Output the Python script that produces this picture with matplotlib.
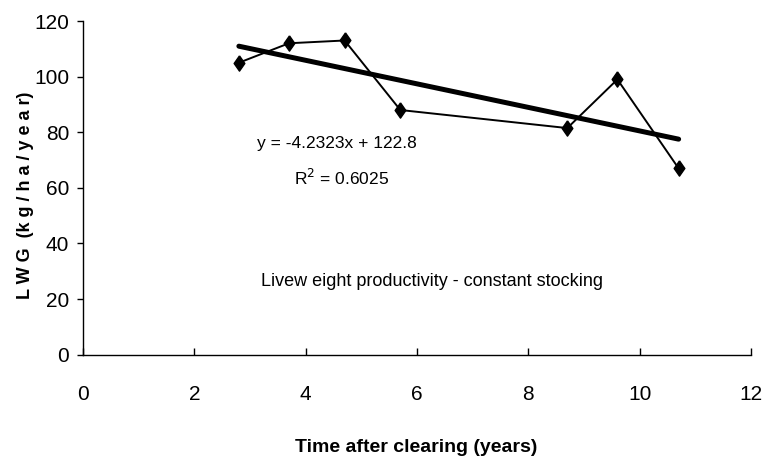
import numpy as np
import matplotlib
matplotlib.use('Agg')
import matplotlib.pyplot as plt

# time after clearing (years) and liveweight gain (kg/ha/year)
years = [2.8, 3.7, 4.7, 5.7, 8.7, 9.6, 10.7]
lwg = [105, 112, 113, 88, 81.5, 99, 67]

# linear trend as given on the chart
slope = -4.2323
intercept = 122.8
r2 = 0.6025

xticks = [0, 2, 4, 6, 8, 10, 12]
yticks = [0, 20, 40, 60, 80, 100, 120]

plt.rcParams['font.family'] = ['Liberation Sans Narrow', 'Liberation Sans', 'DejaVu Sans']

fig = plt.figure(figsize=(7.65, 4.63), dpi=100, facecolor='white')
ax = fig.add_axes([0.1085, 0.2339, 0.8732, 0.7207])

diamond = [(0, 1), (0.7, 0), (0, -1), (-0.7, 0), (0, 1)]
ax.plot(years, lwg, color='black', lw=1.4, marker=diamond, ms=11,
        mfc='black', mec='black', zorder=3)

xt = np.array([min(years), max(years)])
ax.plot(xt, slope * xt + intercept, color='black', lw=3.6, solid_capstyle='round', zorder=2)

ax.set_xlim(0, 12)
ax.set_ylim(0, 120)
ax.set_xticks(xticks)
ax.set_yticks(yticks)
ax.spines['top'].set_visible(False)
ax.spines['right'].set_visible(False)
for s in ['left', 'bottom']:
    ax.spines[s].set_linewidth(1.0)
ax.tick_params(axis='x', direction='in', length=5, width=1.0, labelsize=15, pad=22)
ax.tick_params(axis='y', direction='out', length=4, width=1.0, labelsize=15, pad=6)

ax.set_xlabel('Time after clearing (years)', fontsize=14, fontweight='bold')
ax.xaxis.set_label_coords(0.4985, -0.253)
ax.set_ylabel('L W G  (k g / h a / y e a r)', fontsize=13, fontweight='bold')
ax.yaxis.set_label_coords(-0.074, 0.479)

ax.text(4.56, 75.8, 'y = -4.2323x + 122.8', fontsize=12.5, ha='center', va='center')
ax.text(4.65, 63.6, 'R$^2$ = %.4f' % r2, fontsize=12.5, ha='center', va='center')
ax.text(6.27, 26.2, 'Livew eight productivity - constant stocking', fontsize=13,
        ha='center', va='center')

fig.savefig('out.png', dpi=100)
